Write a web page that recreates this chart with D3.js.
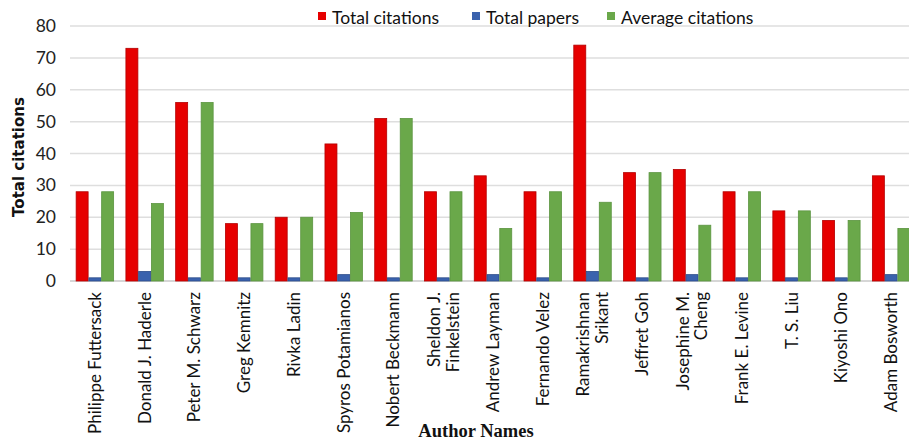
<!DOCTYPE html>
<html>
<head>
<meta charset="utf-8">
<script src="https://cdn.jsdelivr.net/npm/d3@7"></script>
<style>
    body { margin: 0; background: #fff; }
    #chart-area { width: 909px; height: 442px; overflow: hidden; }
    .tick text { font-family: Lato, sans-serif; }
</style>
</head>
<body>
<div id="chart-area"></div>
<script>

// data
let authors = [
    "Philippe Futtersack", "Donald J. Haderle", "Peter M. Schwarz", "Greg Kemnitz",
    "Rivka Ladin", "Spyros Potamianos", "Nobert Beckmann", "Sheldon J.|Finkelstein",
    "Andrew Layman", "Fernando Velez", "Ramakrishnan|Srikant", "Jeffret Goh",
    "Josephine M.|Cheng", "Frank E. Levine", "T. S. Liu", "Kiyoshi Ono", "Adam Bosworth"
];
let totalCitations = [28, 73, 56, 18, 20, 43, 51, 28, 33, 28, 74, 34, 35, 28, 22, 19, 33];
let totalPapers = [1, 3, 1, 1, 1, 2, 1, 1, 2, 1, 3, 1, 2, 1, 1, 1, 2];
let averageCitations = [28, 24.3, 56, 18, 20, 21.5, 51, 28, 16.5, 28, 24.7, 34, 17.5, 28, 22, 19, 16.5];
let seriesNames = ["Total citations", "Total papers", "Average citations"];
let yTicks = [0, 10, 20, 30, 40, 50, 60, 70, 80];


class CitationVis {

    constructor(parentElement) {
        this.parentElement = parentElement;
        this.displayData = [];
        this.initVis();
    }

    initVis() {
        let vis = this;

        vis.width = 909;
        vis.height = 442;
        vis.svg = d3.select("#" + vis.parentElement).append("svg")
            .attr("width", vis.width)
            .attr("height", vis.height);

        // plot box (chart runs slightly past the right edge like the original)
        vis.left = 70;
        vis.right = 916;
        vis.top = 26;
        vis.bottom = 281;

        vis.x = d3.scaleBand()
            .domain(authors)
            .range([vis.left, vis.right])
            .paddingInner(0.216)
            .paddingOuter(0.108);

        vis.xSubgroup = d3.scaleBand()
            .domain(seriesNames)
            .range([0, vis.x.bandwidth()])
            .padding(0.06);

        vis.y = d3.scaleLinear()
            .domain([0, 80])
            .range([vis.bottom, vis.top]);

        vis.color = d3.scaleOrdinal()
            .domain(seriesNames)
            .range(["#e60000", "#3a62ad", "#6aa84a"]);
        vis.stroke = d3.scaleOrdinal()
            .domain(seriesNames)
            .range(["#b30000", "#2c4c8a", "#5b9440"]);

        // gridlines
        vis.svg.append("g")
            .selectAll("line")
            .data(yTicks)
            .enter().append("line")
            .attr("x1", vis.left)
            .attr("x2", vis.width)
            .attr("y1", d => vis.y(d))
            .attr("y2", d => vis.y(d))
            .attr("stroke", d => d === 0 ? "#c8c8c8" : "#dedede")
            .attr("stroke-width", 1.5);

        // y axis
        vis.yAxis = vis.svg.append("g")
            .attr("transform", "translate(" + vis.left + ",0)")
            .call(d3.axisLeft(vis.y).tickValues(yTicks).tickSize(0).tickPadding(14));
        vis.yAxis.select(".domain").remove();
        vis.yAxis.selectAll("text")
            .attr("font-size", 17.5)
            .attr("fill", "#222");

        // x axis labels
        vis.xAxis = vis.svg.append("g")
            .attr("transform", "translate(0," + vis.bottom + ")");

        vis.svg.append("text")
            .attr("transform", "translate(24,157) rotate(-90)")
            .attr("text-anchor", "middle")
            .attr("font-family", "DejaVu Sans, sans-serif")
            .attr("font-weight", "bold")
            .attr("font-size", 15)
            .attr("fill", "#111")
            .text("Total citations");

        vis.svg.append("text")
            .attr("x", 476)
            .attr("y", 437)
            .attr("text-anchor", "middle")
            .attr("font-family", "Liberation Serif, serif")
            .attr("font-weight", "bold")
            .attr("font-size", 18.5)
            .attr("fill", "#111")
            .text("Author Names");

        vis.wrangleData();
    }

    wrangleData() {
        let vis = this;

        vis.displayData = authors.map((a, i) => ({
            author: a,
            values: [
                {key: seriesNames[0], value: totalCitations[i]},
                {key: seriesNames[1], value: totalPapers[i]},
                {key: seriesNames[2], value: averageCitations[i]}
            ]
        }));

        vis.updateVis();
    }

    updateVis() {
        let vis = this;

        vis.svg.append("g")
            .selectAll("g")
            .data(vis.displayData)
            .enter().append("g")
            .attr("transform", d => "translate(" + vis.x(d.author) + ",0)")
            .selectAll("rect")
            .data(d => d.values)
            .enter().append("rect")
            .attr("x", d => vis.xSubgroup(d.key))
            .attr("y", d => vis.y(d.value))
            .attr("width", vis.xSubgroup.bandwidth())
            .attr("height", d => vis.bottom - vis.y(d.value))
            .attr("fill", d => vis.color(d.key))
            .attr("stroke", d => vis.stroke(d.key))
            .attr("stroke-width", 0.8);

        // rotated author names, some broken in two lines
        let labels = vis.xAxis.selectAll("text")
            .data(authors)
            .enter().append("text")
            .attr("transform", d => "translate(" + (vis.x(d) + vis.x.bandwidth() / 2) + ",11) rotate(-90)")
            .attr("text-anchor", "end")
            .attr("font-family", "Lato, sans-serif")
            .attr("font-size", 17)
            .attr("fill", "#111");

        labels.each(function(d) {
            let lines = d.split("|");
            let start = -(lines.length - 1) * 0.55 + 0.35;
            lines.forEach((line, j) => {
                d3.select(this).append("tspan")
                    .attr("x", 0)
                    .attr("y", 0)
                    .attr("dy", (start + j * 1.1) + "em")
                    .text(line);
            });
        });

        // legend
        let legendX = [318, 472, 607];
        let legend = vis.svg.append("g")
            .selectAll("g")
            .data(seriesNames)
            .enter().append("g")
            .attr("transform", (d, i) => "translate(" + legendX[i] + ",12)");
        legend.append("rect")
            .attr("width", 8)
            .attr("height", 8)
            .attr("fill", d => vis.color(d));
        legend.append("text")
            .attr("x", 14)
            .attr("y", 12)
            .attr("font-family", "Lato, sans-serif")
            .attr("font-size", 17.5)
            .attr("fill", "#111")
            .text(d => d);
    }
}

let citationVis = new CitationVis("chart-area");

</script>
</body>
</html>
